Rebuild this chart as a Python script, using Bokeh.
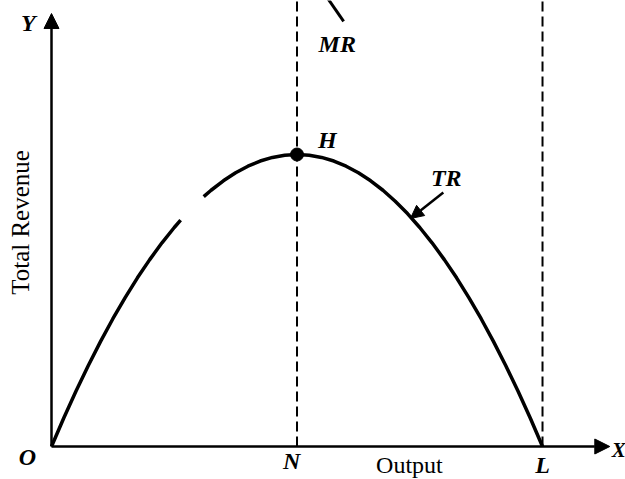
from bokeh.plotting import figure
from bokeh.models import Range1d, Arrow, NormalHead, ColumnDataSource
from bokeh.core.properties import value
from bokeh.embed import file_html
from bokeh.resources import INLINE
import math

nan = float("nan")

# Total revenue curve (output, revenue); gap as in the original
tr_x = [0, 0.25, 0.5, 0.75, 1, 1.25, 1.5, 1.75, 2, 2.25, 2.5, 2.63, nan,
        3.1, 3.25, 3.5, 3.75, 4, 4.25, 4.5, 4.75, 5, 5.25, 5.5, 5.75, 6, 6.25,
        6.5, 6.75, 7, 7.25, 7.5, 7.75, 8, 8.25, 8.5, 8.75, 9, 9.25, 9.5, 9.75, 10]
tr_y = [0, 2.44, 4.75, 6.94, 9, 10.94, 12.75, 14.44, 16, 17.44, 18.75, 19.38, nan,
        21.39, 21.94, 22.75, 23.44, 24, 24.44, 24.75, 24.94, 25, 24.94, 24.75, 24.44, 24, 23.44,
        22.75, 21.94, 21, 19.94, 18.75, 17.44, 16, 14.44, 12.75, 10.94, 9, 6.94, 4.75, 2.44, 0]

# key points
N_x = 5.0       # output at max TR
L_x = 10.0      # output where TR = 0
H_y = 25.0      # max TR
mr_x = [5.62, 5.95]
mr_y = [38.4, 36.4]

X_MIN, X_MAX = -1.0387, 11.690
Y_MIN, Y_MAX = -2.825, 38.185

p = figure(width=625, height=479, x_range=Range1d(X_MIN, X_MAX), y_range=Range1d(Y_MIN, Y_MAX),
           x_axis_type=None, y_axis_type=None, min_border=0, toolbar_location=None,
           output_backend="svg")
p.outline_line_color = None
p.background_fill_color = "white"

ink = "black"

# axes with arrow heads
p.add_layout(Arrow(x_start=0, y_start=0, x_end=11.37, y_end=0, line_width=2.5, line_color=ink,
                   end=NormalHead(size=15, fill_color=ink, line_color=ink, line_width=1)))
p.add_layout(Arrow(x_start=0, y_start=0, x_end=0, y_end=37.07, line_width=2.5, line_color=ink,
                   end=NormalHead(size=15, fill_color=ink, line_color=ink, line_width=1)))

# dashed verticals at N and L
p.segment(x0=[N_x, L_x], y0=[0, 0], x1=[N_x, L_x], y1=[Y_MAX + 1, Y_MAX + 1],
          line_color=ink, line_width=2, line_dash="10 5")

# TR curve
p.line(tr_x, tr_y, line_color=ink, line_width=3.5)

# MR fragment
p.line(mr_x, mr_y, line_color=ink, line_width=3)

# point H
p.scatter([N_x], [H_y], size=13, color=ink)

# TR pointer arrow
p.add_layout(Arrow(x_start=7.98, y_start=21.75, x_end=7.31, y_end=19.52, line_width=2.5,
                   line_color=ink, end=NormalHead(size=13, fill_color=ink, line_color=ink, line_width=1)))

serif = value("Liberation Serif")

lab = ColumnDataSource(dict(
    x=[-0.47, -0.49, 4.89, 10.0, 5.62, 8.04, 5.82],
    y=[36.3, -0.86, -1.28, -1.62, 26.28, 22.95, 34.42],
    t=["Y", "O", "N", "L", "H", "TR", "MR"],
))
p.text(x="x", y="y", text="t", text_align="center", text_baseline="middle", source=lab,
       text_font=serif, text_font_style="bold italic", text_font_size="24px", text_color=ink)
p.text(x=[11.41], y=[-0.3], text=["X"], text_align="left", text_baseline="middle",
       text_font=serif, text_font_style="bold italic", text_font_size="21px", text_color=ink)

p.text(x=[7.29], y=[-1.62], text=["Output"], text_align="center", text_baseline="middle",
       text_font=serif, text_font_size="24px", text_color=ink)
p.text(x=[-0.63], y=[19.18], text=["Total Revenue"], text_align="center", text_baseline="middle",
       angle=math.pi / 2, text_font=serif, text_font_size="25px", text_color=ink)

open("out.html", "w").write(file_html(p, INLINE))
